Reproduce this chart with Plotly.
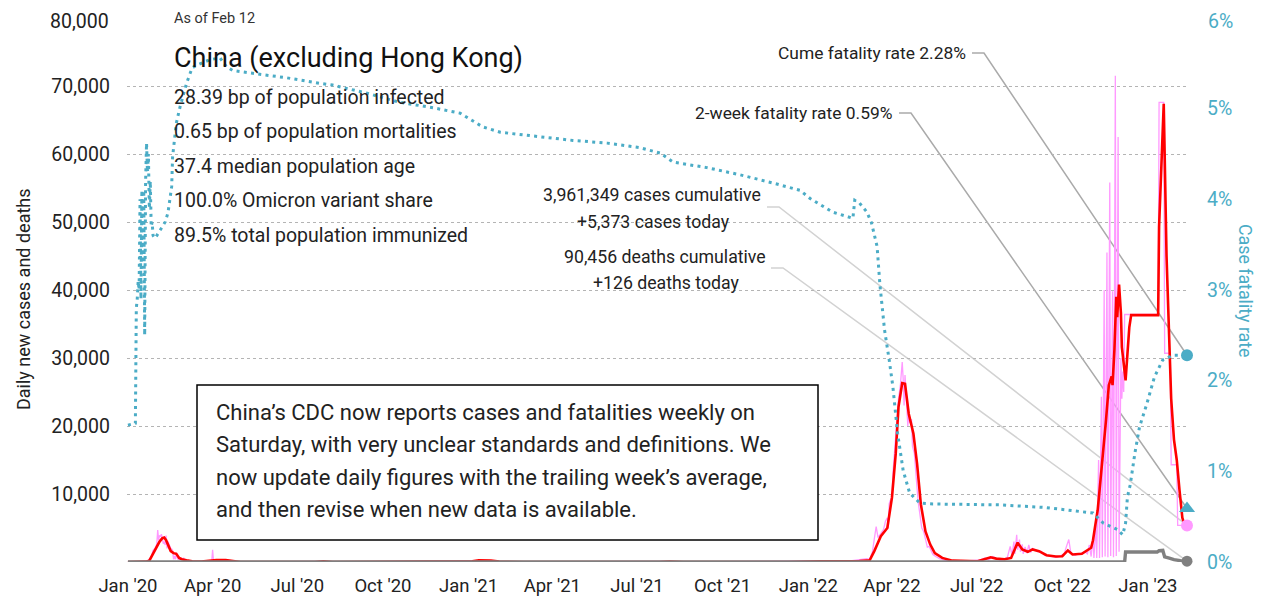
import plotly.graph_objects as go

# ---------------- data ----------------
# Case fatality rate (%), dotted teal line, right axis
cfr_dates = ["2020-01-01","2020-01-09","2020-01-10","2020-01-11","2020-01-12","2020-01-13","2020-01-14",
             "2020-01-15","2020-01-16","2020-01-17","2020-01-18","2020-01-19","2020-01-20","2020-01-21",
             "2020-01-22","2020-01-23","2020-01-24","2020-01-25","2020-01-26","2020-01-27","2020-01-28",
             "2020-01-30","2020-02-01","2020-02-10","2020-02-13","2020-02-15","2020-02-17","2020-02-18",
             "2020-02-22","2020-02-26","2020-03-04","2020-03-10","2020-03-15","2020-03-29","2020-04-09",
             "2020-04-16","2020-04-23","2020-05-14","2020-06-20","2020-07-25","2020-08-08","2020-09-14",
             "2020-10-19","2020-11-24","2020-12-23","2021-01-16","2021-02-04","2021-03-19","2021-04-23",
             "2021-05-30","2021-07-04","2021-07-26","2021-08-09","2021-09-14","2021-10-20","2021-11-24",
             "2021-12-23","2022-01-03","2022-01-17","2022-01-27","2022-02-18","2022-02-20","2022-02-25",
             "2022-03-05","2022-03-10","2022-03-16","2022-03-19","2022-03-24","2022-03-29","2022-04-02",
             "2022-04-07","2022-04-13","2022-04-20","2022-05-01","2022-05-15","2022-07-04","2022-07-26",
             "2022-09-14","2022-10-31","2022-11-03","2022-11-14","2022-11-29","2022-12-05","2022-12-08",
             "2022-12-10","2022-12-13","2022-12-18","2022-12-23","2022-12-31","2023-01-08","2023-01-17",
             "2023-01-28","2023-02-12"]
cfr_values = [1.51,1.53,2.80,2.90,3.10,3.00,4.00,
              2.90,4.10,3.30,4.10,2.50,4.20,4.62,
              4.30,4.50,3.90,4.20,3.70,3.75,3.60,
              3.57,3.60,3.75,3.85,4.00,4.14,4.47,
              4.84,5.02,5.28,5.45,5.48,5.54,5.56,
              5.46,5.42,5.39,5.34,5.28,5.26,5.17,
              5.07,5.01,4.95,4.80,4.74,4.69,4.65,
              4.62,4.57,4.51,4.41,4.35,4.27,4.18,
              4.10,4.01,3.92,3.86,3.79,3.99,3.96,
              3.86,3.74,3.48,3.06,2.56,2.23,1.93,
              1.42,1.01,0.76,0.65,0.64,0.63,0.63,
              0.60,0.54,0.54,0.43,0.36,0.30,0.43,
              0.72,0.85,1.20,1.49,1.75,2.04,2.23,
              2.28,2.28]

# Daily new cases (raw, pink)
case_dates = ["2020-01-01","2020-01-18","2020-01-20","2020-01-22","2020-01-24","2020-01-26","2020-01-28",
              "2020-01-30","2020-02-01","2020-02-02","2020-02-03","2020-02-04","2020-02-05","2020-02-06",
              "2020-02-07","2020-02-08","2020-02-09","2020-02-10","2020-02-11","2020-02-12","2020-02-13",
              "2020-02-14","2020-02-15","2020-02-16","2020-02-17","2020-02-18","2020-02-19","2020-02-20",
              "2020-02-21","2020-02-22","2020-02-23","2020-02-24","2020-02-26","2020-02-28","2020-03-01",
              "2020-03-02","2020-03-04","2020-03-07","2020-03-10","2020-03-20","2020-03-31","2020-04-01",
              "2020-04-02","2020-04-10","2020-04-20","2020-05-10","2020-07-28","2020-08-05","2021-01-10",
              "2021-01-20","2021-02-01","2021-08-01","2021-08-15","2021-11-05","2021-12-25","2022-01-10",
              "2022-02-15","2022-02-25","2022-03-05","2022-03-08","2022-03-11","2022-03-13","2022-03-15",
              "2022-03-17","2022-03-19","2022-03-21","2022-03-23","2022-03-25","2022-03-27","2022-03-28",
              "2022-03-29","2022-03-30","2022-04-01","2022-04-02","2022-04-04","2022-04-06","2022-04-08",
              "2022-04-10","2022-04-11","2022-04-12","2022-04-13","2022-04-14","2022-04-15","2022-04-16",
              "2022-04-17","2022-04-18","2022-04-19","2022-04-20","2022-04-22","2022-04-23","2022-04-25",
              "2022-04-27","2022-04-29","2022-05-01","2022-05-03","2022-05-05","2022-05-07","2022-05-09",
              "2022-05-11","2022-05-13","2022-05-15","2022-05-18","2022-05-22","2022-05-28","2022-06-05",
              "2022-06-20","2022-07-05","2022-07-10","2022-07-14","2022-07-18","2022-07-22","2022-07-26",
              "2022-07-30","2022-08-03","2022-08-06","2022-08-08","2022-08-10","2022-08-11","2022-08-13",
              "2022-08-14","2022-08-16","2022-08-17","2022-08-19","2022-08-20","2022-08-22","2022-08-24",
              "2022-08-26","2022-08-28","2022-08-30","2022-09-02","2022-09-05","2022-09-08","2022-09-12",
              "2022-09-16","2022-09-20","2022-09-25","2022-09-29","2022-10-03","2022-10-06","2022-10-08",
              "2022-10-10","2022-10-12","2022-10-15","2022-10-18","2022-10-22","2022-10-25","2022-10-28",
              "2022-10-30","2022-11-01","2022-11-03","2022-11-04","2022-11-06","2022-11-07","2022-11-09",
              "2022-11-10","2022-11-12","2022-11-13","2022-11-15","2022-11-16","2022-11-18","2022-11-19",
              "2022-11-21","2022-11-22","2022-11-24","2022-11-25","2022-11-27","2022-11-28","2022-11-30",
              "2022-12-01","2022-12-02","2022-12-03","2022-12-04","2022-12-05","2022-12-06","2022-12-07",
              "2023-01-12","2023-01-13","2023-01-18","2023-01-19","2023-01-25","2023-01-26","2023-02-01",
              "2023-02-02","2023-02-12"]
case_values = [0,20,80,150,450,700,1700,
               2000,2600,4700,3200,3900,3700,4100,
               3400,2700,3000,2500,3900,2000,3000,
               2600,2100,2000,1900,1700,400,900,
               400,1400,600,400,450,430,570,
               200,120,60,20,40,40,1800,
               60,80,30,10,100,30,180,
               150,20,80,20,80,200,150,
               150,300,500,400,1500,3400,5200,
               3600,4000,4500,4800,6000,6500,5000,
               8600,9000,9500,13000,16500,20500,24000,
               26000,28000,29400,27000,23000,27500,25000,
               23000,20000,22000,20500,21000,17000,16000,
               12000,9000,7000,5000,4500,3500,2200,
               2300,1700,1100,800,500,250,100,
               150,300,600,300,800,500,300,
               400,700,2300,1000,3000,1200,4000,
               1800,3300,1500,2600,1200,2200,1300,
               2500,1400,2000,1800,1500,1600,1000,
               900,800,700,900,1200,2500,3300,
               1500,1100,1000,1200,1300,1500,1200,
               2500,800,3700,600,5500,600,15000,
               600,24300,700,40000,800,45500,700,
               55800,900,39800,700,71500,900,62500,
               1500,25000,30000,24000,28000,25000,36400,
               36400,67600,67600,30700,30700,14300,14300,
               5400,5373]

# Trailing average of new cases (red)
avg_dates = ["2020-01-01","2020-01-20","2020-01-24","2020-01-28","2020-02-01","2020-02-04","2020-02-07",
             "2020-02-09","2020-02-11","2020-02-13","2020-02-16","2020-02-19","2020-02-22","2020-02-25",
             "2020-02-28","2020-03-04","2020-03-10","2020-03-20","2020-04-05","2020-04-15","2020-04-22",
             "2020-05-01","2020-07-20","2020-07-29","2020-08-08","2020-12-28","2021-01-05","2021-01-12",
             "2021-01-25","2021-02-03","2021-03-01","2021-07-25","2021-08-05","2021-08-20","2021-12-10",
             "2022-01-15","2022-02-10","2022-02-25","2022-03-08","2022-03-13","2022-03-20","2022-03-27",
             "2022-04-01","2022-04-05","2022-04-08","2022-04-12","2022-04-15","2022-04-19","2022-04-24",
             "2022-04-28","2022-05-02","2022-05-07","2022-05-12","2022-05-17","2022-05-25","2022-06-05",
             "2022-07-02","2022-07-16","2022-07-22","2022-07-31","2022-08-07","2022-08-14","2022-08-19",
             "2022-08-25","2022-08-30","2022-09-06","2022-09-14","2022-09-24","2022-10-01","2022-10-07",
             "2022-10-12","2022-10-22","2022-11-01","2022-11-03","2022-11-05","2022-11-08","2022-11-10",
             "2022-11-14","2022-11-17","2022-11-20","2022-11-23","2022-11-24","2022-11-26","2022-11-28",
             "2022-11-29","2022-12-01","2022-12-03","2022-12-04","2022-12-07","2022-12-08","2022-12-10",
             "2022-12-12","2022-12-14","2023-01-12","2023-01-13","2023-01-16","2023-01-18","2023-01-21",
             "2023-01-24","2023-01-26","2023-01-29","2023-02-01","2023-02-04","2023-02-07","2023-02-09",
             "2023-02-12"]
avg_values = [0,50,200,1200,2200,3000,3500,
              3600,3200,2500,1600,1300,1200,600,
              400,250,100,50,300,300,150,
              0,0,100,0,0,100,250,
              200,50,0,0,80,0,0,
              120,100,150,250,1600,3800,5000,
              9500,15900,22800,26300,26200,21800,18900,
              14400,8500,4500,2600,1300,600,200,
              100,700,500,400,600,2850,1850,
              1500,1850,1600,1000,800,850,1700,
              1100,1200,2100,3200,5000,7600,10500,
              16000,20900,26000,27300,26000,31200,39000,
              36000,40800,36600,31600,27700,26700,30600,
              34500,36300,36300,49300,61500,67400,45000,
              30000,24000,18000,15000,10500,6500,5600,
              5400]

# Daily deaths (grey)
death_dates = ["2020-01-01","2020-01-25","2020-02-05","2020-02-12","2020-02-20","2020-02-28","2020-03-10",
               "2020-03-20","2020-04-01","2022-12-07","2022-12-08","2023-01-11","2023-01-13","2023-01-17",
               "2023-01-19","2023-01-24","2023-01-29","2023-02-05","2023-02-12"]
death_values = [0,20,70,110,120,60,20,
                5,0,10,1480,1480,1650,1700,
                750,570,340,200,126]

# Headline figures
as_of = "Feb 12"
country = "China (excluding Hong Kong)"
stats_lines = ["28.39 bp of population infected",
               "0.65 bp of population mortalities",
               "37.4 median population age",
               "100.0% Omicron variant share",
               "89.5% total population immunized"]
cume_cfr = 2.28
two_week_cfr = 0.59
cum_cases = 3961349
new_cases = 5373
cum_deaths = 90456
new_deaths = 126
note_lines = ["China\u2019s CDC now reports cases and fatalities weekly on",
              "Saturday, with very unclear standards and definitions. We",
              "now update daily figures with the trailing week\u2019s average,",
              "and then revise when new data is available."]

# Axis ticks
x_tick_dates = ["2020-01-01","2020-04-01","2020-07-01","2020-10-01","2021-01-01","2021-04-01","2021-07-01",
                "2021-10-01","2022-01-01","2022-04-01","2022-07-01","2022-10-01","2023-01-01"]
x_tick_labels = ["Jan '20","Apr '20","Jul '20","Oct '20","Jan '21","Apr '21","Jul '21",
                 "Oct '21","Jan '22","Apr '22","Jul '22","Oct '22","Jan '23"]
y_ticks = [0,10000,20000,30000,40000,50000,60000,70000,80000]
y2_ticks = [0,1,2,3,4,5,6]

# ---------------- styling ----------------
FONT = "Roboto, 'Liberation Sans', sans-serif"
TEAL = "#4BACC6"
PINK = "#FF99FF"
RED = "#FF0000"
GREY = "#808080"
TXT = "#222222"

OFF = 8                      # page body margin in the browser
W, H = 1265, 603
PL, PR, PT, PB = 127, 1187, 18, 562   # plot area in page pixels
L, T = PL - OFF, PT - OFF
R, B = W + OFF - PR, H + OFF - PB
PW, PH = PR - PL, PB - PT


def px(x):
    return (x - PL) / PW


def py(y):
    return (PB - y) / PH


fig = go.Figure()
fig.add_trace(go.Scatter(x=case_dates, y=case_values, mode="lines", line=dict(color=PINK, width=1.3),
                         yaxis="y", hoverinfo="skip"))
fig.add_trace(go.Scatter(x=cfr_dates, y=cfr_values, mode="lines",
                         line=dict(color=TEAL, width=3, dash="3px,4.3px"), yaxis="y2", hoverinfo="skip"))
fig.add_trace(go.Scatter(x=avg_dates, y=avg_values, mode="lines", line=dict(color=RED, width=2.6),
                         yaxis="y", hoverinfo="skip"))
fig.add_trace(go.Scatter(x=death_dates, y=death_values, mode="lines", line=dict(color=GREY, width=3.4),
                         yaxis="y", hoverinfo="skip", cliponaxis=False))

end_date = case_dates[-1]
fig.add_trace(go.Scatter(x=[end_date], y=[cume_cfr], mode="markers", yaxis="y2", cliponaxis=False,
                         marker=dict(color=TEAL, size=12, symbol="circle")))
fig.add_trace(go.Scatter(x=[end_date], y=[two_week_cfr], mode="markers", yaxis="y2", cliponaxis=False,
                         marker=dict(color=TEAL, size=14, symbol="triangle-up")))
fig.add_trace(go.Scatter(x=[end_date], y=[new_cases], mode="markers", yaxis="y", cliponaxis=False,
                         marker=dict(color=PINK, size=12, symbol="circle")))
fig.add_trace(go.Scatter(x=[end_date], y=[new_deaths], mode="markers", yaxis="y", cliponaxis=False,
                         marker=dict(color=GREY, size=11, symbol="circle")))

# leader lines (paper coords); end points derived from the values
y_max, y2_max = y_ticks[-1], y2_ticks[-1]
leaders = [
    (972, 984, 53, cume_cfr / y2_max, "#AAAAAA"),
    (899, 911, 113, two_week_cfr / y2_max, "#AAAAAA"),
    (767, 779, 207, new_cases / y_max, "#D2D2D2"),
    (771, 783, 268, new_deaths / y_max, "#D2D2D2"),
]
shapes = []
for xa, xb, yy, yend, col in leaders:
    shapes.append(dict(type="path", xref="paper", yref="paper", layer="below",
                       path=f"M {px(xa)},{py(yy)} L {px(xb)},{py(yy)} L 1,{yend}",
                       line=dict(color=col, width=1.5)))
# note box
shapes.append(dict(type="rect", xref="paper", yref="paper", layer="above",
                   x0=px(197), x1=px(818), y0=py(540), y1=py(385),
                   line=dict(color="#000000", width=1.5), fillcolor="white"))

ann = []


def add_text(text, x, y, size, color=TXT, xanchor="left", angle=0, yanchor="middle"):
    ann.append(dict(text=text, x=x, y=y, xref="paper", yref="paper", xanchor=xanchor, yanchor=yanchor,
                    showarrow=False, textangle=angle, font=dict(family=FONT, size=size, color=color)))


add_text(f"As of {as_of}", px(172), py(18), 14.5, "#333333")
add_text(country, px(172), py(58), 27, "#111111")
for i, s in enumerate(stats_lines):
    add_text(s, px(172), py(97 + i * 34.5), 19.5)
for i, s in enumerate(note_lines):
    add_text(s, px(214), py(412 + i * 32.5), 22)
add_text(f"Cume fatality rate {cume_cfr:.2f}%", px(968), py(53), 17.4, xanchor="right")
add_text(f"2-week fatality rate {two_week_cfr:.2f}%", px(894), py(113), 17.4, xanchor="right")
add_text(f"{cum_cases:,} cases cumulative", px(652), py(195), 17.7, xanchor="center")
add_text(f"+{new_cases:,} cases today", px(653), py(222), 17.7, xanchor="center")
add_text(f"{cum_deaths:,} deaths cumulative", px(665), py(257), 17.7, xanchor="center")
add_text(f"+{new_deaths:,} deaths today", px(666), py(283), 17.7, xanchor="center")
add_text("Daily new cases and deaths", px(23), py(299), 18, xanchor="center", angle=-90)
add_text("Case fatality rate", px(1246), py(291), 17.8, TEAL, xanchor="center", angle=90)
# top tick labels drawn flush with the top edge so they are not clipped
add_text(f"{y_ticks[-1]:,}", px(111), py(OFF), 19.5, xanchor="right", yanchor="top")
add_text(f"{y2_ticks[-1]}%", px(1206), py(OFF), 19.5, TEAL, xanchor="left", yanchor="top")

fig.update_layout(
    width=W, height=H, margin=dict(l=L, r=R, t=T, b=B, pad=0, autoexpand=False),
    paper_bgcolor="white", plot_bgcolor="white", showlegend=False,
    font=dict(family=FONT, color=TXT),
    xaxis=dict(type="date", range=["2019-12-31", "2023-02-12"], tickvals=x_tick_dates, ticktext=x_tick_labels,
               showgrid=False, zeroline=False, showline=False, ticks="", ticklabelstandoff=10, automargin=False,
               tickfont=dict(family=FONT, size=18.5, color=TXT)),
    yaxis=dict(range=[0, y_max], tickvals=y_ticks,
               ticktext=["" if v in (0, y_ticks[-1]) else f"{v:,}" for v in y_ticks],
               showgrid=True, gridcolor="#B4B4B4", griddash="dot", gridwidth=1, zeroline=False, automargin=False,
               ticklabeloverflow="allow",
               showline=False, ticks="", ticklabelstandoff=16, tickfont=dict(family=FONT, size=19.5, color=TXT)),
    yaxis2=dict(range=[0, y2_max], tickvals=y2_ticks,
                ticktext=["" if v == y2_ticks[-1] else f"{v}%" for v in y2_ticks], overlaying="y",
                side="right", showgrid=False, zeroline=False, showline=False, ticks="", ticklabelstandoff=19,
                automargin=False, ticklabeloverflow="allow",
                tickfont=dict(family=FONT, size=19.5, color=TEAL)),
    shapes=shapes, annotations=ann,
)

fig.write_html("out.html")
